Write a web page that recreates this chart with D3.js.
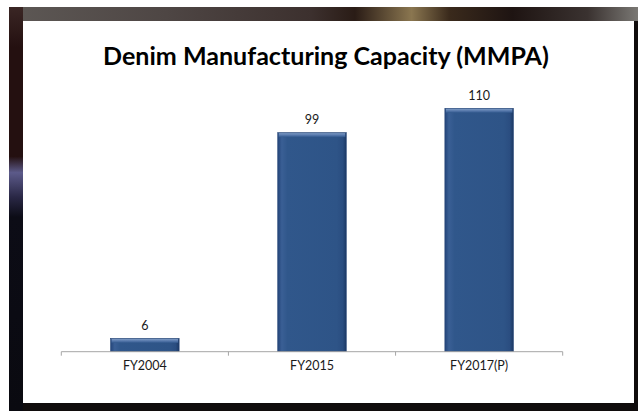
<!DOCTYPE html>
<html>
<head>
<meta charset="utf-8">
<script src="https://cdn.jsdelivr.net/npm/d3@7"></script>
<style>
  html, body { margin: 0; padding: 0; background: #fff; }
  svg { display: block; }
  text { font-family: Lato, "Open Sans", sans-serif; }
</style>
</head>
<body>
<svg id="chart"></svg>
<script>
/* global d3 */

const categories = ['FY2004', 'FY2015', 'FY2017(P)'];
const capacity = [6, 99, 110];
const title = 'Denim Manufacturing Capacity (MMPA)';

const WIDTH = 638;
const HEIGHT = 411;

const svg = d3.select('#chart')
  .attr('width', WIDTH)
  .attr('height', HEIGHT);

const defs = svg.append('defs');

// ---- photo-ish backdrop behind the slide ---------------------------
const topGrad = defs.append('linearGradient').attr('id', 'top-grad');
[['0%', '#5d5855'], ['25%', '#4e4644'], ['48%', '#3c302e'], ['55%', '#2a1c16'],
 ['64%', '#8a7650'], ['70%', '#3a2a1c'], ['80%', '#1e1412'], ['92%', '#3a3230'],
 ['100%', '#7a7874']]
  .forEach(([o, c]) => topGrad.append('stop').attr('offset', o).attr('stop-color', c));

const leftGrad = defs.append('linearGradient').attr('id', 'left-grad')
  .attr('x1', 0).attr('x2', 0).attr('y1', 0).attr('y2', 1);
[['0%', '#3a2624'], ['10%', '#241010'], ['37%', '#241010'], ['41%', '#5c5a8a'],
 ['47%', '#2a2846'], ['52%', '#0c0c16'], ['100%', '#0a0a10']]
  .forEach(([o, c]) => leftGrad.append('stop').attr('offset', o).attr('stop-color', c));

svg.append('rect')
  .attr('x', 9).attr('y', 7)
  .attr('width', WIDTH - 9).attr('height', HEIGHT - 7)
  .attr('fill', '#100c0c');
svg.append('rect')
  .attr('x', 9).attr('y', 7)
  .attr('width', WIDTH - 9).attr('height', 14)
  .attr('fill', 'url(#top-grad)');
svg.append('rect')
  .attr('x', 9).attr('y', 7)
  .attr('width', 14).attr('height', HEIGHT - 7)
  .attr('fill', 'url(#left-grad)');

// white slide panel
svg.append('rect')
  .attr('x', 23).attr('y', 21)
  .attr('width', 611).attr('height', 382)
  .attr('fill', '#ffffff');

// ---- bar gradient ---------------------------------------------------
const barGrad = defs.append('linearGradient').attr('id', 'bar-grad');
[['0%', '#24457a'], ['6%', '#3a5f95'], ['14%', '#30578b'], ['86%', '#2e5487'],
 ['95%', '#2a4d80'], ['100%', '#1c3964']]
  .forEach(([o, c]) => barGrad.append('stop').attr('offset', o).attr('stop-color', c));

const topBevel = defs.append('linearGradient').attr('id', 'bevel-grad')
  .attr('x1', 0).attr('x2', 0).attr('y1', 0).attr('y2', 1);
[['0%', '#7d9ac4'], ['60%', '#4f72a6'], ['100%', '#30578b']]
  .forEach(([o, c]) => topBevel.append('stop').attr('offset', o).attr('stop-color', c));

// ---- scales ---------------------------------------------------------
const x = d3.scaleBand()
  .domain(categories)
  .range([61.3, 562.7])
  .paddingInner(0.59)
  .paddingOuter(0.295);

const y = d3.scaleLinear()
  .domain([0, 120])
  .range([351.7, 86.2]);

const rows = categories.map((c, i) => ({ cat: c, value: capacity[i] }));

// ---- title ----------------------------------------------------------
const titleText = svg.append('text')
  .attr('x', 326)
  .attr('y', 65)
  .attr('text-anchor', 'middle')
  .attr('font-weight', 'bold')
  .attr('font-size', 24)
  .attr('fill', '#000')
  .text(title);
const tw = titleText.node().getComputedTextLength();
titleText.attr('font-size', 24 * 446 / tw);

// ---- bars -----------------------------------------------------------
const bars = svg.append('g').selectAll('g')
  .data(rows)
  .enter().append('g');

bars.append('rect')
  .attr('x', d => x(d.cat))
  .attr('y', d => y(d.value))
  .attr('width', x.bandwidth())
  .attr('height', d => y(0) - y(d.value))
  .attr('fill', 'url(#bar-grad)')
  .attr('stroke', '#234375')
  .attr('stroke-width', 0.6);

bars.append('rect')
  .attr('x', d => x(d.cat) + 1)
  .attr('y', d => y(d.value) + 0.5)
  .attr('width', x.bandwidth() - 2)
  .attr('height', 4)
  .attr('fill', 'url(#bevel-grad)');

bars.append('text')
  .attr('x', d => x(d.cat) + x.bandwidth() / 2)
  .attr('y', d => y(d.value) - 8.5)
  .attr('text-anchor', 'middle')
  .attr('font-size', 12.5)
  .attr('fill', '#1a1a1a')
  .text(d => d.value);

// ---- category axis --------------------------------------------------
const axis = svg.append('g')
  .attr('transform', `translate(0,${y(0)})`);

axis.append('line')
  .attr('x1', x.range()[0]).attr('x2', x.range()[1])
  .attr('stroke', '#a6a6a6')
  .attr('stroke-width', 1);

const boundaries = d3.range(categories.length + 1)
  .map(i => x.range()[0] + i * x.step());

axis.selectAll('.tick-mark')
  .data(boundaries)
  .enter().append('line')
  .attr('class', 'tick-mark')
  .attr('x1', d => d).attr('x2', d => d)
  .attr('y1', 0).attr('y2', 4)
  .attr('stroke', '#a6a6a6');

axis.selectAll('.cat-label')
  .data(categories)
  .enter().append('text')
  .attr('class', 'cat-label')
  .attr('x', d => x(d) + x.bandwidth() / 2)
  .attr('y', 18.5)
  .attr('text-anchor', 'middle')
  .attr('font-size', 12.5)
  .attr('fill', '#1a1a1a')
  .text(d => d);
</script>
</body>
</html>
